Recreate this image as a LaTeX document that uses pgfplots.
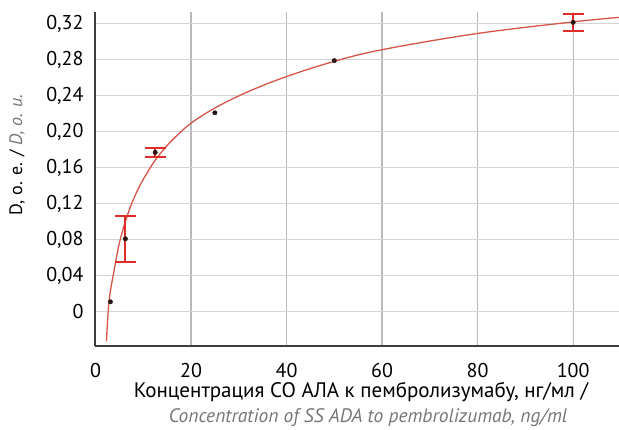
\documentclass[border=0pt]{standalone}
\usepackage{fontspec}
\setmainfont{PT Sans}
\usepackage{pgfplots}
\pgfplotsset{compat=1.18}
\usetikzlibrary{calc}

\definecolor{fitred}{RGB}{214,84,72}
\definecolor{barred}{RGB}{222,44,40}
\definecolor{axisgray}{RGB}{62,62,62}
\definecolor{gridv}{RGB}{185,185,185}
\definecolor{gridh}{RGB}{212,212,212}
\definecolor{engray}{RGB}{118,118,118}
\definecolor{dotcol}{RGB}{40,20,20}

\begin{document}
\begin{tikzpicture}
\begin{axis}[
  scale only axis,
  width=524pt, height=334pt,
  xmin=-0.1, xmax=109.6,
  ymin=-0.0381, ymax=0.333,
  axis lines*=left,
  axis line style={-, draw=axisgray, line width=2.4pt},
  major tick length=0pt,
  xtick={0,20,40,60,80,100},
  xticklabels={0,20,40,60,80,100},
  ytick={0,0.04,0.08,0.12,0.16,0.20,0.24,0.28,0.32},
  yticklabels={0,{0,04},{0,08},{0,12},{0,16},{0,20},{0,24},{0,28},{0,32}},
  tick label style={font=\fontsize{20}{24}\selectfont},
  xticklabel style={yshift=-14pt},
  yticklabel style={xshift=-8pt},
  xmajorgrids=true, ymajorgrids=true,
  grid style={draw=gridh, line width=1.1pt},
  major x grid style={draw=gridv, line width=1.2pt},
  major y grid style={draw=gridh, line width=1.1pt},
  every axis x label/.style={at={(axis description cs:0.5,0)}, anchor=center,
    yshift=-58.5pt, xshift=7pt, align=center, font=\fontsize{20}{25}\selectfont},
  every axis y label/.style={at={(axis description cs:0,0.572)}, anchor=center,
    rotate=90, yshift=78pt, font=\fontsize{18}{22}\selectfont},
  xlabel={{\fontsize{21}{25}\selectfont Концентрация СО АЛА к пембролизумабу, нг/мл /\hspace*{6pt}}\\
    \hspace*{8pt}{\fontsize{19.5}{25}\selectfont\color{engray}\itshape Concentration of SS ADA to pembrolizumab, ng/ml}},
  ylabel={D, o. e. / \textcolor{engray}{\itshape D, o. u.}},
]
% calibration curve
\addplot[fitred, line width=1.3pt, smooth, tension=0.6] coordinates {
  (2.3,-0.033) (2.83,0.011) (3.87,0.045) (5.13,0.079) (6.87,0.110)
  (8.96,0.1366) (11.77,0.1625) (14.2,0.1797) (16.65,0.1937) (20.15,0.210)
  (25.4,0.2275) (32.4,0.2455) (40.4,0.262) (49.9,0.278) (59.9,0.291)
  (79.8,0.309) (100,0.322) (109.6,0.327)
};
% standard deviation of the replicates
\addplot[barred, only marks, mark=none,
  error bars/.cd, y dir=both, y explicit,
  error bar style={draw=barred, line width=1.8pt},
  error mark options={rotate=90, mark size=10.5pt, draw=barred, line width=2.2pt}]
  coordinates {
  (6.25,0.081) +- (0,0.0255)
  (12.5,0.177) +- (0,0.005)
  (100,0.3215) +- (0,0.0095)
};
% measured optical density
\addplot[only marks, mark=*, mark size=2.2pt, dotcol] coordinates {
  (3.125,0.011) (6.25,0.081) (12.5,0.177) (25,0.221) (50,0.279) (100,0.3215)
};
\coordinate (lo) at (rel axis cs:0,0);
\coordinate (hi) at (rel axis cs:1,1);
\end{axis}
\pgfresetboundingbox
\path[use as bounding box] ($(lo)+(-95pt,-84pt)$) rectangle ($(hi)+(0pt,12pt)$);
\end{tikzpicture}
\end{document}
